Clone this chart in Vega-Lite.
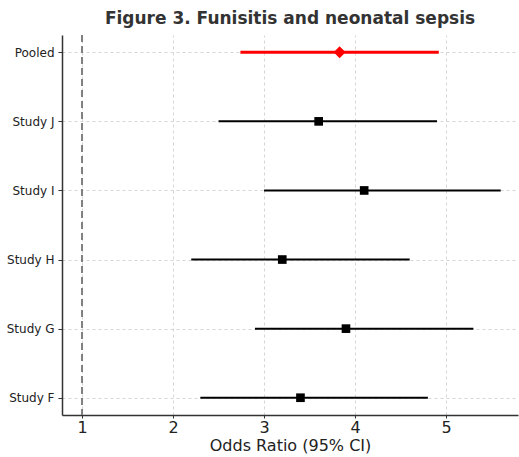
{
  "$schema": "https://vega.github.io/schema/vega-lite/v6.json",
  "autosize": "none",
  "width": 456,
  "height": 380,
  "padding": {"left": 62, "top": 35, "right": 1, "bottom": 42},
  "background": "white",
  "title": {
    "text": "Figure 3. Funisitis and neonatal sepsis",
    "font": "DejaVu Sans",
    "fontSize": 17,
    "fontWeight": "bold",
    "color": "#333333",
    "offset": 6,
    "anchor": "middle"
  },
  "config": {
    "view": {"stroke": null},
    "axis": {
      "labelFont": "DejaVu Sans",
      "titleFont": "DejaVu Sans",
      "gridColor": "#cccccc",
      "gridDash": [3, 3],
      "gridWidth": 0.8,
      "domainColor": "#333333",
      "domainWidth": 1.5,
      "tickColor": "#333333",
      "labelColor": "#222222",
      "titleColor": "#222222"
    }
  },
  "data": {
    "values": [
      {"study": "Pooled", "or": 3.83, "lo": 2.74, "hi": 4.92, "kind": "pooled"},
      {"study": "Study J", "or": 3.6, "lo": 2.5, "hi": 4.9, "kind": "study"},
      {"study": "Study I", "or": 4.1, "lo": 3.0, "hi": 5.6, "kind": "study"},
      {"study": "Study H", "or": 3.2, "lo": 2.2, "hi": 4.6, "kind": "study"},
      {"study": "Study G", "or": 3.9, "lo": 2.9, "hi": 5.3, "kind": "study"},
      {"study": "Study F", "or": 3.4, "lo": 2.3, "hi": 4.8, "kind": "study"}
    ]
  },
  "encoding": {
    "y": {
      "field": "study",
      "type": "nominal",
      "sort": ["Pooled", "Study J", "Study I", "Study H", "Study G", "Study F"],
      "scale": {"type": "point", "padding": 0.25},
      "axis": {
        "title": null,
        "labelFontSize": 12,
        "labelPadding": 4,
        "tickSize": 4,
        "grid": true
      }
    }
  },
  "layer": [
    {
      "data": {"values": [{"ref": 1}]},
      "mark": {"type": "rule", "color": "#808080", "strokeWidth": 2, "strokeDash": [7, 4]},
      "encoding": {
        "x": {"field": "ref", "type": "quantitative"},
        "y": null
      }
    },
    {
      "mark": {"type": "rule"},
      "encoding": {
        "x": {
          "field": "lo",
          "type": "quantitative",
          "scale": {"domain": [0.78, 5.79], "nice": false, "zero": false},
          "axis": {
            "title": "Odds Ratio (95% CI)",
            "titleFontSize": 16,
            "titleFontWeight": "normal",
            "titlePadding": 2,
            "labelFontSize": 16,
            "values": [1, 2, 3, 4, 5],
            "format": "d",
            "tickSize": 3,
            "labelPadding": 1,
            "grid": true
          }
        },
        "x2": {"field": "hi"},
        "strokeWidth": {
          "field": "kind",
          "type": "nominal",
          "scale": {"domain": ["pooled", "study"], "range": [3, 2]},
          "legend": null
        },
        "color": {
          "field": "kind",
          "type": "nominal",
          "scale": {"domain": ["pooled", "study"], "range": ["#ff0000", "#000000"]},
          "legend": null
        }
      }
    },
    {
      "mark": {"type": "point", "filled": true, "opacity": 1},
      "encoding": {
        "x": {"field": "or", "type": "quantitative"},
        "shape": {
          "field": "kind",
          "type": "nominal",
          "scale": {"domain": ["pooled", "study"], "range": ["diamond", "square"]},
          "legend": null
        },
        "size": {
          "field": "kind",
          "type": "nominal",
          "scale": {"domain": ["pooled", "study"], "range": [140, 75]},
          "legend": null
        },
        "color": {
          "field": "kind",
          "type": "nominal",
          "scale": {"domain": ["pooled", "study"], "range": ["#ff0000", "#000000"]},
          "legend": null
        }
      }
    }
  ]
}
